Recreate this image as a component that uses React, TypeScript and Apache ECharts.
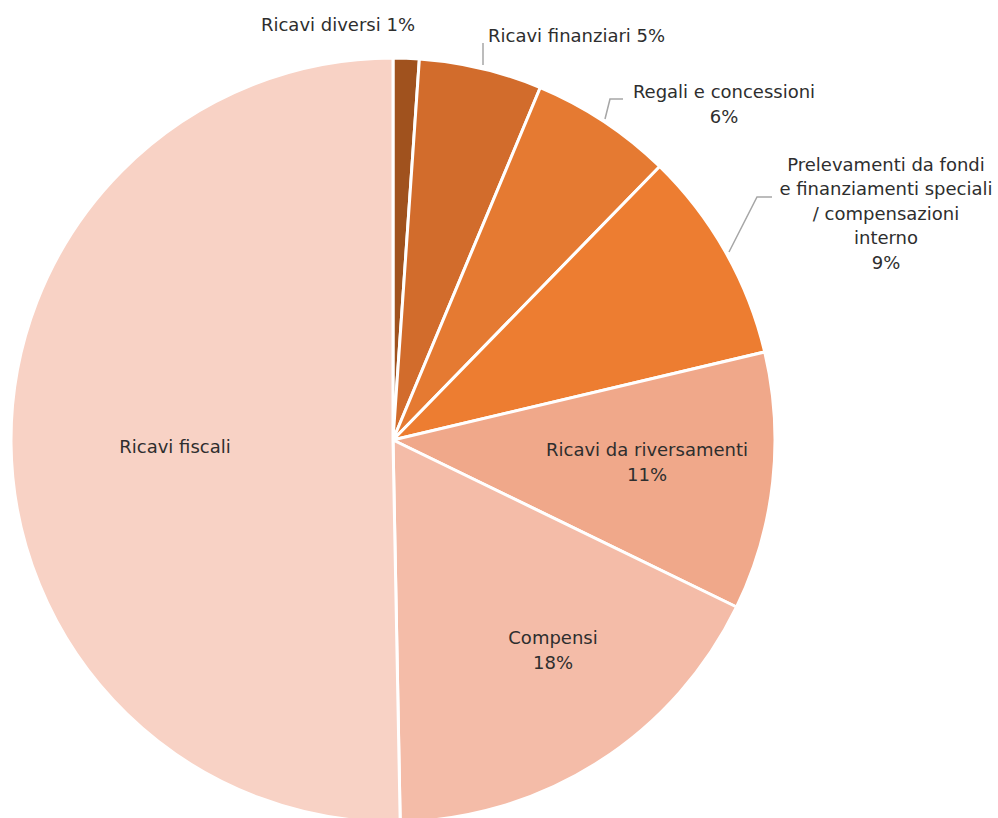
import React, { useEffect, useRef } from "react";
import * as echarts from "echarts";

const categories = [
  "Ricavi diversi",
  "Ricavi finanziari",
  "Regali e concessioni",
  "Prelevamenti da fondi\ne finanziamenti speciali\n/ compensazioni\ninterno",
  "Ricavi da riversamenti",
  "Compensi",
  "Ricavi fiscali",
];
const values = [1.1, 5.2, 6.0, 9.0, 10.9, 17.5, 50.3];
const colors = ["#A0521E", "#D26C2C", "#E57A32", "#ED7D31", "#F0A88A", "#F4BCA8", "#F8D2C5"];

// label placement (layout only)
const labelLayouts: any[] = [
  { x: 415, y: 24, align: "right" },
  { x: 488, y: 35, align: "left", line: [[483, 65], [483, 43]] },
  { x: 724, y: 104, align: "center", line: [[605, 119], [610, 99], [623, 99]] },
  { x: 886, y: 213, align: "center", line: [[729, 252], [757, 197], [772, 197]] },
  { x: 647, y: 462, align: "center" },
  { x: 553, y: 650, align: "center" },
  { x: 175, y: 446, align: "center" },
];

export default function App() {
  const ref = useRef<HTMLDivElement>(null);
  useEffect(() => {
    if (!ref.current) return;
    const chart = echarts.init(ref.current, null, { renderer: "svg" });
    const data = categories.map((name, i) => ({
      name,
      value: values[i],
      itemStyle: { color: colors[i] },
      label: { position: i >= 4 ? "inside" : "outside" },
      labelLine: { show: i >= 1 && i <= 3 },
    }));
    chart.setOption({
      animation: false,
      series: [
        {
          type: "pie",
          center: [393, 440],
          radius: 382,
          startAngle: 90,
          clockwise: true,
          avoidLabelOverlap: false,
          itemStyle: { borderColor: "#ffffff", borderWidth: 3 },
          emphasis: { disabled: true },
          label: {
            show: true,
            fontFamily: "DejaVu Sans",
            fontSize: 18,
            lineHeight: 24.5,
            color: "#2E2E2E",
            align: "center",
            formatter: (p: any) => {
              const i = p.dataIndex;
              const pct = Math.round(values[i]) + "%";
              if (i === categories.length - 1) return p.name;
              return p.name + (i < 2 ? " " : "\n") + pct;
            },
          },
          labelLine: {
            show: true,
            length: 10,
            length2: 10,
            lineStyle: { color: "#A6A6A6", width: 1.5 },
          },
          labelLayout: (params: any) => {
            const l = labelLayouts[params.dataIndex];
            const out: any = {
              x: l.x,
              y: l.y,
              align: l.align,
              verticalAlign: "middle",
            };
            if (l.line) out.labelLinePoints = l.line;
            return out;
          },
          data,
        },
      ],
    });
    return () => chart.dispose();
  }, []);
  return (
    <div
      ref={ref}
      style={{ position: "absolute", left: 0, top: 0, width: 998, height: 818, background: "#ffffff" }}
    />
  );
}
